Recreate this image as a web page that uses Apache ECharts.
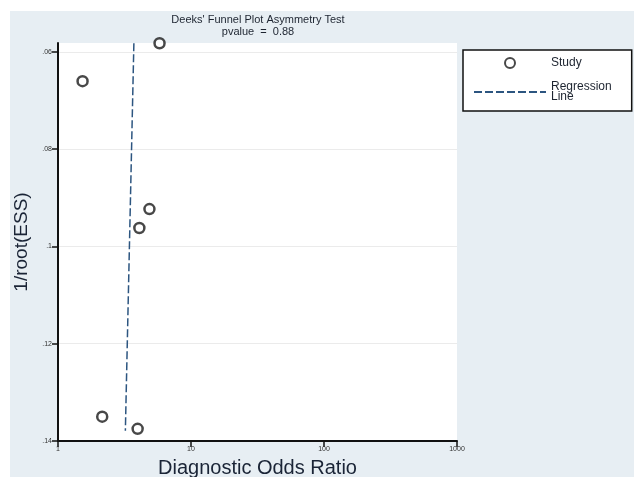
<!DOCTYPE html>
<html>
<head>
<meta charset="utf-8">
<script src="https://cdn.jsdelivr.net/npm/echarts@6/dist/echarts.min.js"></script>
<style>
  html, body { margin: 0; padding: 0; background: #fff; }
  #chart { width: 634px; height: 477px; }
</style>
</head>
<body>
<div id="chart"></div>
<script>
// studies: diagnostic odds ratio vs 1/root(ESS)
const studyDOR = [5.8, 1.53, 4.87, 4.09, 2.15, 3.97];
const studyInvEss = [0.0582, 0.0660, 0.0923, 0.0962, 0.1350, 0.1375];

// regression line end points
const lineDOR = [3.72, 3.21];
const lineInvEss = [0.0582, 0.1379];

const yTicks = [0.06, 0.08, 0.1, 0.12, 0.14];
const pValue = "0.88";

const chart = echarts.init(document.getElementById("chart"));

function fmtTick(v) {
  return String(Number(v.toFixed(2))).replace(/^0\./, ".");
}

chart.setOption({
  animation: false,
  backgroundColor: "#e7eef3",
  textStyle: { fontFamily: "Liberation Sans, Arial, sans-serif" },
  graphic: [
    { type: "rect", shape: { x: 0, y: 0, width: 634, height: 11 }, style: { fill: "#fff" } },
    { type: "rect", shape: { x: 0, y: 0, width: 10, height: 477 }, style: { fill: "#fff" } },
  ],
  title: {
    text: "Deeks' Funnel Plot Asymmetry Test",
    subtext: "pvalue  =  " + pValue,
    left: 258,
    top: 14,
    textAlign: "center",
    itemGap: 0,
    padding: 0,
    textStyle: { fontSize: 11, fontWeight: "normal", color: "#1d2430", lineHeight: 12 },
    subtextStyle: { fontSize: 11, color: "#1d2430", lineHeight: 12 },
  },
  legend: {
    orient: "vertical",
    left: 463,
    top: 50,
    width: 170,
    padding: [7, 20, 8, 10],
    backgroundColor: "#fff",
    borderColor: "#111",
    borderWidth: 1.5,
    borderRadius: 0,
    itemWidth: 72,
    itemHeight: 10,
    itemGap: 12,
    textStyle: { fontSize: 12, color: "#1d2430", lineHeight: 10 },
    data: [
      { name: "Study", itemStyle: { borderWidth: 2 } },
      { name: "Regression\nLine", itemStyle: { color: "transparent", borderWidth: 0, opacity: 0 } },
    ],
  },
  grid: {
    left: 58,
    top: 43,
    width: 399,
    height: 398,
    outerBoundsMode: "none",
    containLabel: false,
    show: true,
    backgroundColor: "#fff",
    borderWidth: 0,
  },
  xAxis: {
    type: "log",
    logBase: 10,
    min: 1,
    max: 1000,
    name: "Diagnostic Odds Ratio",
    nameLocation: "middle",
    nameGap: 17,
    nameTextStyle: { fontSize: 20, color: "#1a2436" },
    axisLine: { lineStyle: { color: "#111", width: 2 } },
    axisTick: { show: true, inside: false, length: 6, lineStyle: { color: "#111", width: 1.5 } },
    axisLabel: { fontSize: 7, color: "#333", margin: 5, formatter: (v) => String(v) },
    splitLine: { show: false },
    minorTick: { show: false },
  },
  yAxis: {
    type: "value",
    inverse: true,
    min: 0.05815,
    max: 0.14,
    name: "1/root(ESS)",
    nameLocation: "middle",
    nameGap: 26,
    nameTextStyle: { fontSize: 19, color: "#1a2436" },
    axisLine: { show: true, lineStyle: { color: "#111", width: 2 } },
    axisTick: { show: true, inside: false, length: 6, customValues: yTicks, lineStyle: { color: "#111", width: 1.5 } },
    axisLabel: { fontSize: 7, color: "#333", margin: 6, customValues: yTicks, formatter: fmtTick },
    splitLine: { show: true, lineStyle: { color: "#ebebeb", width: 1 } },
  },
  series: [
    {
      name: "Study",
      type: "scatter",
      symbol: "circle",
      symbolSize: 10,
      clip: false,
      itemStyle: { color: "#fff", borderColor: "#1a1a1a", borderWidth: 2.5 },
      data: studyDOR.map((d, i) => [d, studyInvEss[i]]),
    },
    {
      name: "Regression\nLine",
      type: "line",
      symbol: "none",
      lineStyle: { color: "#2c5580", width: 1.5, type: [8, 3] },
      data: lineDOR.map((d, i) => [d, lineInvEss[i]]),
    },
  ],
});
</script>
</body>
</html>
